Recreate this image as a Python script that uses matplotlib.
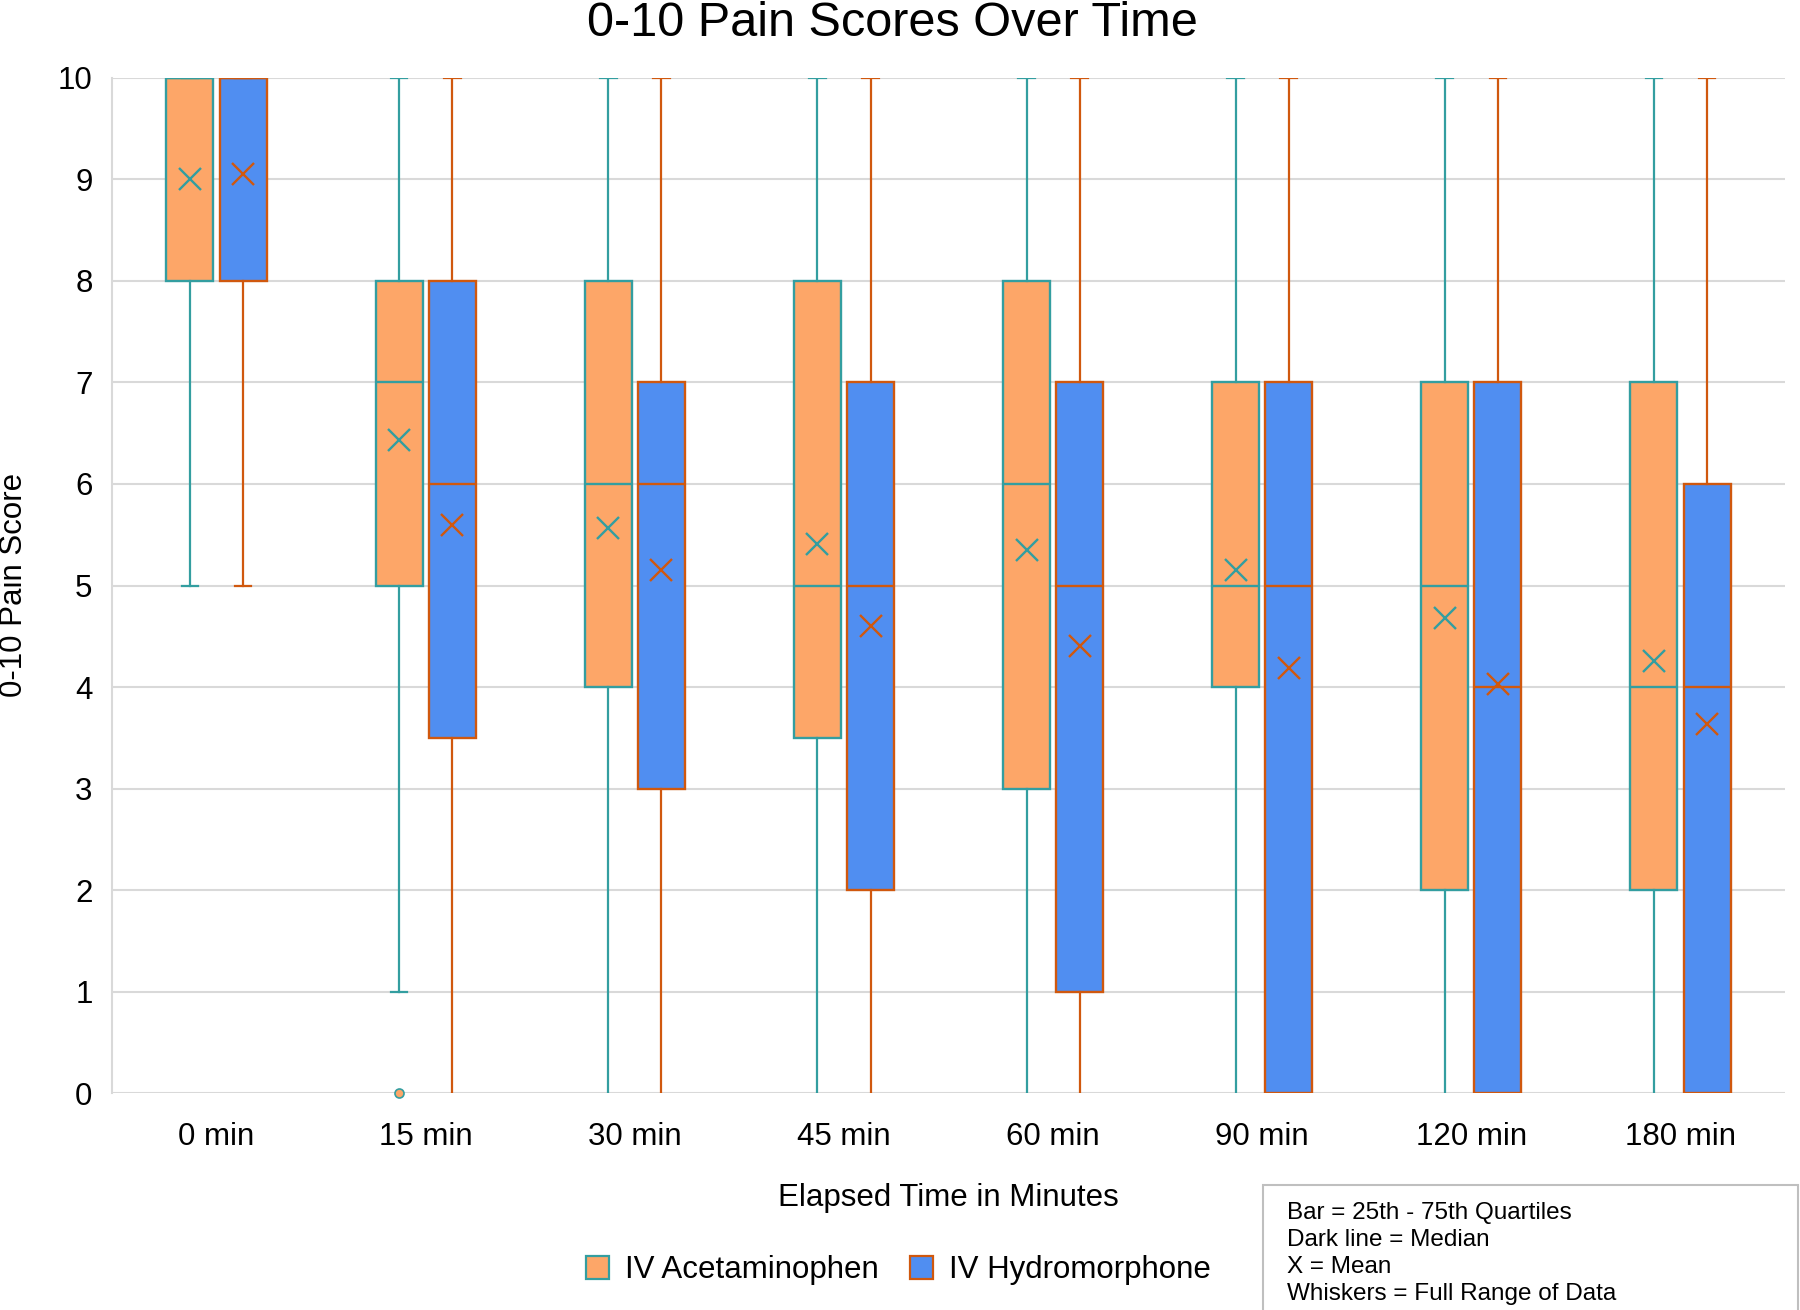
import matplotlib
matplotlib.use("Agg")
import matplotlib.pyplot as plt
from matplotlib.patches import Patch, Rectangle

plt.rcParams['font.family'] = ['Liberation Sans', 'DejaVu Sans']

# data
times = ["0 min", "15 min", "30 min", "45 min", "60 min", "90 min", "120 min", "180 min"]

ace_min = [5, 1, 0, 0, 0, 0, 0, 0]
ace_q1 = [8, 5, 4, 3.5, 3, 4, 2, 2]
ace_med = [10, 7, 6, 5, 6, 5, 5, 4]
ace_q3 = [10, 8, 8, 8, 8, 7, 7, 7]
ace_max = [10, 10, 10, 10, 10, 10, 10, 10]
ace_mean = [9.0, 6.43, 5.57, 5.41, 5.35, 5.15, 4.68, 4.26]
ace_out = [[], [0], [], [], [], [], [], []]

hyd_min = [5, 0, 0, 0, 0, 0, 0, 0]
hyd_q1 = [8, 3.5, 3, 2, 1, 0, 0, 0]
hyd_med = [10, 6, 6, 5, 5, 5, 4, 4]
hyd_q3 = [10, 8, 7, 7, 7, 7, 7, 6]
hyd_max = [10, 10, 10, 10, 10, 10, 10, 10]
hyd_mean = [9.05, 5.60, 5.15, 4.60, 4.40, 4.19, 4.03, 3.64]
hyd_out = [[], [], [], [], [], [], [], []]

ORANGE = '#FDA668'
TEAL = '#339EA0'
BLUE = '#508EF1'
DKORANGE = '#D0580E'
GRID = '#D9D9D9'


def make_stats(lo, q1, med, q3, hi, mean, out):
    return [dict(whislo=a, q1=b, med=c, q3=d, whishi=e, mean=f, fliers=g)
            for a, b, c, d, e, f, g in zip(lo, q1, med, q3, hi, mean, out)]


fig = plt.figure(figsize=(18, 13.1), dpi=100)
ax = fig.add_axes([0.0622, 0.1656, 0.9295, 0.7749])

off = 0.127
w = 0.225
series = [
    (make_stats(ace_min, ace_q1, ace_med, ace_q3, ace_max, ace_mean, ace_out), -off, ORANGE, TEAL),
    (make_stats(hyd_min, hyd_q1, hyd_med, hyd_q3, hyd_max, hyd_mean, hyd_out), off, BLUE, DKORANGE),
]
for stats, dx, face, edge in series:
    pos = [i + dx for i in range(len(times))]
    bp = ax.bxp(stats, positions=pos, widths=w, patch_artist=True, showmeans=True,
                capwidths=0.08, manage_ticks=False,
                boxprops=dict(facecolor=face, edgecolor=edge, linewidth=1.7),
                medianprops=dict(color=edge, linewidth=1.7),
                whiskerprops=dict(color=edge, linewidth=1.6),
                capprops=dict(color=edge, linewidth=1.6),
                meanprops=dict(marker='x', markeredgecolor=edge, markersize=16,
                               markeredgewidth=1.7),
                flierprops=dict(marker='o', markerfacecolor=ORANGE, markeredgecolor=TEAL,
                                markersize=6.5, markeredgewidth=1.2))
    for cap in bp['caps']:
        if cap.get_ydata()[0] == 0:
            cap.set_visible(False)
    for fl in bp['fliers']:
        fl.set_clip_on(False)

ax.set_xlim(-0.5, len(times) - 0.5)
ax.set_ylim(0, 10)
ax.set_yticks(range(0, 11))
ax.set_xticks(range(len(times)))
ax.set_xticklabels(times)
ax.tick_params(axis='both', length=0, labelsize=22.5, colors='#000000')
ax.tick_params(axis='y', pad=14)
ax.tick_params(axis='x', pad=21)
ax.yaxis.grid(True, color=GRID, linewidth=1.5)
ax.set_axisbelow(True)
for s in ['top', 'right', 'bottom']:
    ax.spines[s].set_visible(False)
ax.spines['left'].set_color(GRID)
ax.spines['left'].set_linewidth(1.5)

fig.text(0.4956, 1 - 23 / 1310, "0-10 Pain Scores Over Time", fontsize=35,
         ha='center', va='center')
fig.text(14 / 1800, 1 - 585 / 1310, "0-10 Pain Score", fontsize=22.5,
         rotation=90, ha='center', va='center')
fig.text(948 / 1800, 1 - 1198 / 1310, "Elapsed Time in Minutes", fontsize=22.5,
         ha='center', va='center')

handles = [Patch(facecolor=ORANGE, edgecolor=TEAL, linewidth=1.6, label="IV Acetaminophen"),
           Patch(facecolor=BLUE, edgecolor=DKORANGE, linewidth=1.6, label="IV Hydromorphone")]
fig.legend(handles=handles, loc='center', bbox_to_anchor=(0.499, 1 - 1270 / 1310),
           ncol=2, frameon=False, fontsize=22.5, handlelength=0.75, handleheight=0.75,
           handletextpad=0.5, columnspacing=1.0)

fig.patches.append(Rectangle((1263 / 1800, 1 - 1330 / 1310), 535 / 1800, 145 / 1310,
                             transform=fig.transFigure, facecolor='white',
                             edgecolor='#BFBFBF', linewidth=1.5))
note = ["Bar = 25th - 75th Quartiles", "Dark line = Median", "X = Mean",
        "Whiskers = Full Range of Data"]
fig.text(1287 / 1800, 1 - 1202 / 1310, "\n".join(note), fontsize=17.5,
         ha='left', va='top', linespacing=1.3)

fig.savefig("out.png", dpi=100)
